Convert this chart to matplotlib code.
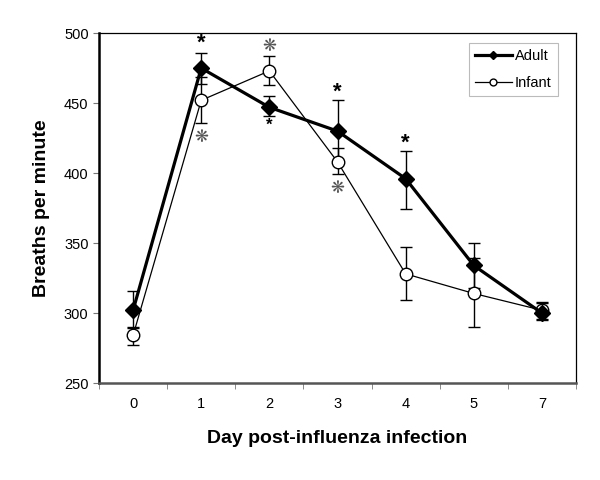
import numpy as np
import matplotlib.pyplot as plt

plt.rcParams['font.family'] = ['Liberation Sans', 'DejaVu Sans']

days = ['0', '1', '2', '3', '4', '5', '7']
adult = [302, 475, 447, 430, 396, 334, 300]
adult_up = [316, 486, 455, 452, 416, 350, 307]
adult_lo = [289, 464, 441, 409, 374, 318, 295]
infant = [284, 452, 473, 408, 328, 314, 302]
infant_up = [290, 469, 484, 418, 347, 339, 308]
infant_lo = [277, 436, 463, 399, 309, 290, 296]

# significance marks: (day index, y value, text, size)
adult_marks = [(1, 493, '*', 16), (3, 458, '*', 16), (4, 421, '*', 16), (2, 434, '*', 12)]
infant_marks = [(1, 426, '\u274b', 12), (2, 491, '\u274b', 12), (3, 389, '\u274b', 12)]

x = np.arange(len(days))
adult = np.array(adult)
infant = np.array(infant)

fig = plt.figure(figsize=(6, 4.8), dpi=100)
ax = fig.add_axes([0.165, 0.202, 0.795, 0.729])

ax.errorbar(x, infant, yerr=[infant - np.array(infant_lo), np.array(infant_up) - infant],
            fmt='none', ecolor='black', elinewidth=1, capsize=4, capthick=1, zorder=2)
ax.errorbar(x, adult, yerr=[adult - np.array(adult_lo), np.array(adult_up) - adult],
            fmt='none', ecolor='black', elinewidth=1, capsize=4, capthick=1, zorder=2)
ax.plot(x, adult, color='black', lw=2.3, marker='D', markersize=8,
        markerfacecolor='black', label='Adult', zorder=4)
ax.plot(x, infant, color='black', lw=0.9, marker='o', markersize=9,
        markerfacecolor='white', markeredgewidth=1, label='Infant', zorder=3)

for i, yv, t, s in adult_marks:
    ax.text(i, yv, t, ha='center', va='center', fontsize=s, fontweight='bold', color='black')
for i, yv, t, s in infant_marks:
    ax.text(i, yv, t, ha='center', va='center', fontsize=s, color='#555555',
            family=['DejaVu Sans'])

ax.set_xlim(-0.5, len(days) - 0.5)
ax.set_ylim(250, 500)
ax.set_yticks(np.arange(250, 501, 50))
ax.set_xticks(x)
ax.set_xticklabels(days)
ax.set_xticks(np.arange(-0.5, len(days), 1), minor=True)
ax.tick_params(axis='x', which='major', length=0, pad=10, labelsize=10.5)
ax.tick_params(axis='x', which='minor', length=4, direction='out', color='#777777')
ax.tick_params(axis='y', length=4, direction='out', labelsize=10.5, color='#777777')

for side in ['top', 'right']:
    ax.spines[side].set_linewidth(0.9)
ax.spines['left'].set_linewidth(1.8)
ax.spines['bottom'].set_linewidth(1.8)
ax.spines['bottom'].set_color('#555555')

ax.set_xlabel('Day post-influenza infection', fontsize=14, fontweight='bold', labelpad=14)
ax.set_ylabel('Breaths per minute', fontsize=14, fontweight='bold', labelpad=10)

leg = ax.legend(loc='upper right', bbox_to_anchor=(0.962, 0.972), fontsize=10.5,
                frameon=True, fancybox=False, edgecolor='#aaaaaa', handlelength=2.5,
                handletextpad=0.2, borderpad=0.45, borderaxespad=0, labelspacing=0.85,
                markerscale=0.55)
leg.get_frame().set_linewidth(0.8)

fig.savefig('out.png', dpi=100)
